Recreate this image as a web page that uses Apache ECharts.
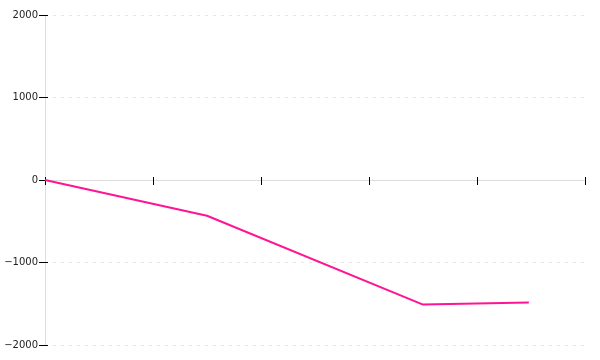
<!DOCTYPE html>
<html>
<head>
<meta charset="utf-8">
<script src="https://cdn.jsdelivr.net/npm/echarts@6/dist/echarts.min.js"></script>
<style>html,body{margin:0;padding:0;background:#fff}#c{width:600px;height:360px}</style>
</head>
<body>
<div id="c"></div>
<script>
var xValues = [0, 1.5, 3.5, 4.48];
var yValues = [0, -433, -1510, -1485];
var yTicks = [-2000, -1000, 0, 1000, 2000];
var xTicks = [0, 1, 2, 3, 4, 5];

var points = xValues.map(function (x, i) { return [x, yValues[i]]; });
var fmt = function (v) { return String(v).replace('-', '\u2212'); };

var chart = echarts.init(document.getElementById('c'), null, {renderer: 'canvas'});
var xBase = {
  type: 'value', min: xTicks[0], max: xTicks[xTicks.length - 1], interval: 1,
  axisLabel: {show: false}, splitLine: {show: false}
};
var yBase = {
  type: 'value', min: yTicks[0], max: yTicks[yTicks.length - 1], interval: 1000
};
chart.setOption({
  animation: false,
  grid: {left: 45, right: 15, top: 15, bottom: 15, containLabel: false},
  xAxis: [
    Object.assign({}, xBase, {
      position: 'bottom',
      axisLine: {show: true, onZero: true, onZeroAxisIndex: 0, lineStyle: {color: '#dddddd', width: 1}},
      axisTick: {show: true, inside: false, length: 5, lineStyle: {color: '#000', width: 1}}
    }),
    Object.assign({}, xBase, {
      position: 'bottom',
      axisLine: {show: false, onZero: true, onZeroAxisIndex: 0},
      axisTick: {show: true, inside: true, length: 3, lineStyle: {color: '#000', width: 1}}
    })
  ],
  yAxis: [
    Object.assign({}, yBase, {
      position: 'left',
      axisLine: {show: true, onZero: false, lineStyle: {color: '#dddddd', width: 1}},
      axisTick: {show: true, inside: false, length: 6, lineStyle: {color: '#000', width: 1}},
      axisLabel: {show: true, margin: 7, color: '#222', fontFamily: 'DejaVu Sans', fontSize: 10, formatter: fmt},
      splitLine: {show: true, lineStyle: {color: '#e6e6e6', type: [3, 5], width: 1}}
    }),
    Object.assign({}, yBase, {
      position: 'left',
      axisLine: {show: false, onZero: false},
      axisTick: {show: true, inside: true, length: 3, lineStyle: {color: '#000', width: 1}},
      axisLabel: {show: false},
      splitLine: {show: false}
    })
  ],
  series: [{
    type: 'line',
    xAxisIndex: 0,
    yAxisIndex: 0,
    data: points,
    showSymbol: false,
    symbol: 'none',
    lineStyle: {color: '#ff1493', width: 2},
    z: 5
  }]
});
</script>
</body>
</html>
